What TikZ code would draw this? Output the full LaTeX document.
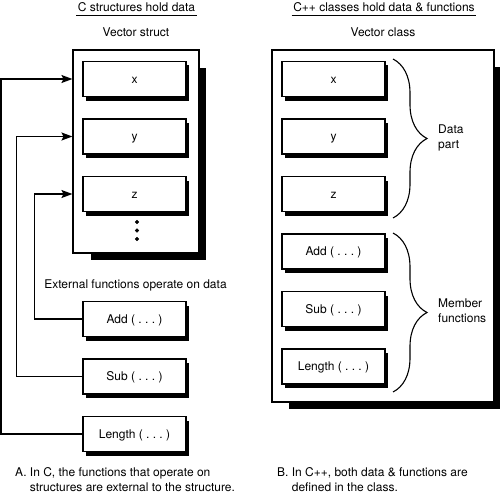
\documentclass[tikz,border=0pt]{standalone}
\usepackage{fontspec}
\setmainfont{TeX Gyre Heros}
\usetikzlibrary{arrows.meta,backgrounds,shadows,decorations.pathreplacing}

\tikzset{
  holder/.style={draw, fill=white, line width=1.1pt, inner sep=0pt},
  field/.style={draw, fill=white, line width=1.1pt, minimum width=103pt, minimum height=35pt,
    text height=9pt, text depth=1pt, inner sep=0pt,
    drop shadow={shadow xshift=3pt, shadow yshift=-4pt, fill=black, opacity=1}},
  heading/.style={inner xsep=1.5pt, inner ysep=3.5pt, text height=9pt, text depth=0pt},
  link/.style={line width=1.4pt, -{Stealth[length=11pt,width=8pt,inset=2pt]}},
  curly/.style={decorate, decoration={brace, amplitude=34pt}, line width=1.1pt},
}

\begin{document}
\begin{tikzpicture}[x=1pt, y=-1pt, font=\fontsize{12}{15}\selectfont\frenchspacing]
\useasboundingbox (0,0) rectangle (500,503);

% C: the struct
\node[heading] (stitle) at (136.5,7) {C structures hold data};
\draw[line width=0.9pt] (stitle.south west) -- (stitle.south east);
\node (sname) at (136,32) {Vector struct};
\node[holder, minimum width=126pt, minimum height=203pt] (sstruct) at (136,151.5) {};
\node[field] (sx) at (134.5,79) {x};
\node[field] (sy) at (134.5,136.5) {y};
\node[field] (sz) at (134.5,194) {z};
\draw[fill] (137,222) circle [radius=1.9];
\draw[fill] (137,230.5) circle [radius=1.9];
\draw[fill] (137,239) circle [radius=1.9];

% C: functions outside
\node (sext) at (135.5,285) {External functions operate on data};
\node[field] (sadd) at (134.5,319) {Add ( . . . )};
\node[field] (ssub) at (134.5,376.5) {Sub ( . . . )};
\node[field] (slen) at (134.5,434) {Length ( . . . )};
\draw[link] (sadd.west) -- ++(-48,0) |- (sz -| sstruct.west);
\draw[link] (ssub.west) -- ++(-66,0) |- (sy -| sstruct.west);
\draw[link] (slen.west) -- ++(-81.5,0) |- (sx -| sstruct.west);

\node[inner sep=0pt, anchor=base west] (scap) at (15,476)
  {\begin{tabular}[t]{@{}l@{\ }l@{}}A. & In C, the functions that operate on\\
   & structures are external to the structure.\end{tabular}};

% C++: the class
\node[heading] (vtitle) at (384,7) {C++ classes hold data \& functions};
\draw[line width=0.9pt] (vtitle.south west) -- (vtitle.south east);
\node (vname) at (383,32) {Vector class};
\node[holder, minimum width=222pt, minimum height=352pt] (vclass) at (383,226) {};
\node[field] (vx) at (333.5,79) {x};
\node[field] (vy) at (333.5,136.5) {y};
\node[field] (vz) at (333.5,194) {z};
\node[field] (vadd) at (333.5,251.5) {Add ( . . . )};
\node[field] (vsub) at (333.5,309) {Sub ( . . . )};
\node[field] (vlen) at (333.5,366.5) {Length ( . . . )};

\draw[curly] (393,59) -- (393,218);
\node[align=left, anchor=west, inner sep=0pt] (vdata) at (438,138) {Data\\part};
\draw[curly] (393,233) -- (393,392);
\node[align=left, anchor=west, inner sep=0pt] (vmember) at (438,311) {Member\\functions};

\node[inner sep=0pt, anchor=base west] (vcap) at (277,476)
  {\begin{tabular}[t]{@{}l@{\ }l@{}}B. & In C++, both data \& functions are\\
   & defined in the class.\end{tabular}};

% big shadows
\begin{scope}[on background layer]
\fill ([shift={(19,19)}]sstruct.north west) rectangle ([shift={(6,6)}]sstruct.south east);
\fill ([shift={(18,18)}]vclass.north west) rectangle ([shift={(6,6)}]vclass.south east);
\end{scope}
\end{tikzpicture}
\end{document}
